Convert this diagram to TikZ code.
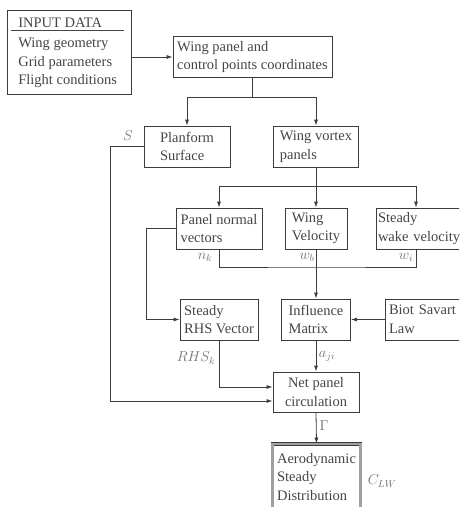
\documentclass[tikz,border=0pt]{standalone}
\usepackage{fontspec}
\setmainfont{Liberation Serif}
\usepackage{xcolor}
\usepackage{tikz}
\usetikzlibrary{positioning, arrows.meta}
\definecolor{LineGray}{HTML}{3C3C3C}
\definecolor{TextGray}{HTML}{454545}
\definecolor{LabelGray}{HTML}{707070}
\definecolor{FrameGray}{HTML}{A0A0A0}

\begin{document}
\begin{tikzpicture}[x=1pt, y=-1pt,
            flowbox/.style={draw=LineGray, line width=0.8pt, text=TextGray, align=left, inner sep=2pt, minimum height=41pt, font=\fontsize{14.5}{18.5}\selectfont},
            edgelabel/.style={text=LabelGray, inner sep=0pt, font=\fontsize{14.5}{18.5}\selectfont},
            flow/.style={draw=LineGray, line width=0.8pt, -{Latex[length=6pt, width=4pt]}},
            wire/.style={draw=LineGray, line width=0.8pt}
        ]
            \useasboundingbox (0,0) rectangle (459,507);
            \clip (0,0) rectangle (459,507);

            \node[flowbox, inner sep=4pt, minimum height=0pt] at (69.5, 52.5) (input) {%
                \setlength{\arrayrulewidth}{0.8pt}%
                \begin{tabular}{@{\hspace{7pt}}l@{\hspace{7pt}}}
                    INPUT DATA\\[-3pt]
                    \hline
                    \rule{0pt}{17pt}Wing geometry\\
                    Grid parameters\\
                    Flight conditions
                \end{tabular}
            };

            \node[flowbox, minimum width=159pt] at (252.5, 57) (panels) {Wing panel and\\control points coordinates};

            \node[flowbox, minimum width=86pt] at (187, 146.5) (planform) {Planform\\Surface};

            \node[flowbox, minimum width=85pt] at (316, 146.5) (vortex) {Wing vortex\\panels};

            \node[flowbox, minimum width=86pt] at (219, 228.5) (normals) {Panel normal\\vectors};

            \node[flowbox, minimum width=62pt] at (316, 228.5) (wingvel) {Wing\\Velocity};

            \node[flowbox, text width=88pt] at (422, 228.5) (wakevel) {Steady\\wake velocity};

            \node[flowbox, minimum width=78pt] at (219, 319.5) (rhs) {Steady\\RHS Vector};

            \node[flowbox, minimum width=69pt] at (316, 319.5) (influence) {Influence\\Matrix};

            \node[flowbox, text width=84pt, inner xsep=4pt] at (431, 319.5) (biot) {Biot Savart\\Law};

            \node[flowbox, align=center, minimum width=86pt, minimum height=40pt] at (316, 392) (circulation) {Net panel\\circulation};

            \node[flowbox, double=FrameGray, double distance=2.2pt, minimum width=88pt, minimum height=66pt] at (316.5, 477) (aero) {Aerodynamic\\Steady\\Distribution};

            \node[edgelabel] at (128, 136) (lblS) {$S$};
            \node[edgelabel] at (205, 257) (lblnk) {$n_k$};
            \node[edgelabel] at (307, 257) (lblwb) {$w_b$};
            \node[edgelabel] at (406, 257) (lblwi) {$w_i$};
            \node[edgelabel] at (196, 358) (lblrhs) {$RHS_k$};
            \node[edgelabel] at (327, 356) (lblaji) {$a_{ji}$};
            \node[edgelabel] at (324, 426) (lblgamma) {$\Gamma$};
            \node[edgelabel] at (382, 481) (lblclw) {$C_{LW}$};

            \coordinate (fork1) at (252.5, 97);
            \coordinate (fork2) at (316, 186);
            \coordinate (merge) at (316, 267);

            \draw[flow] (panels.west -| input.east) -- (panels.west);
            \draw[wire] (panels.south) -- (fork1);
            \draw[flow] (fork1) -| (planform.north);
            \draw[flow] (fork1) -| (vortex.north);
            \draw[flow] (vortex.south) -- (wingvel.north);
            \draw[flow] (fork2) -| (normals.north);
            \draw[flow] (fork2) -| ([xshift=-6pt]wakevel.north);
            \draw[wire] (normals.south) |- (merge) -| ([xshift=-6pt]wakevel.south);
            \draw[flow] (wingvel.south) -- (influence.north);
            \draw[flow] (normals.west) -- ++(-29, 0) |- (rhs.west);
            \draw[flow] (biot.west) -- (influence.east);
            \draw[flow] (rhs.south) |- ([yshift=5pt]circulation.west);
            \draw[flow] (planform.west) -- ++(-33, 0) |- ([yshift=-9pt]circulation.west);
            \draw[flow] (influence.south) -- (circulation.north);
            \draw[flow] (circulation.south) -- (aero.north);

        \end{tikzpicture}
\end{document}
